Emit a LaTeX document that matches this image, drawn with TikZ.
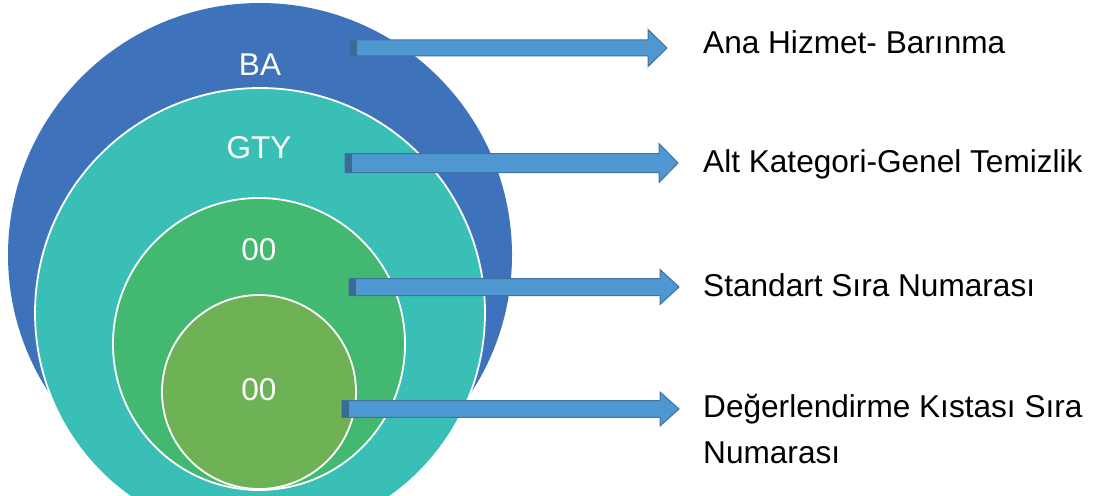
\documentclass[tikz,border=0pt]{standalone}
\usepackage{fontspec}
\setmainfont{Liberation Sans}
\usetikzlibrary{calc}
\definecolor{cblue}{RGB}{62,114,186}
\definecolor{cteal}{RGB}{58,191,182}
\definecolor{cgreen}{RGB}{66,184,112}
\definecolor{clgreen}{RGB}{111,178,86}
\definecolor{arrowfill}{RGB}{79,151,208}
\definecolor{arrowline}{RGB}{64,114,160}
\definecolor{arrowdark}{RGB}{58,106,150}
\tikzset{
  ring/.style={draw=white, line width=1.8pt},
  ringlabel/.style={text=white, font=\fontsize{31.5}{36}\selectfont, anchor=base, inner sep=0pt},
  desc/.style={text=black, font=\fontsize{31.6}{45.7}\selectfont, anchor=base west, inner sep=0pt, align=left},
}
\newcommand\blkarrow[4]{%
  \filldraw[fill=arrowfill, draw=arrowline, line width=1pt]
    ($(#1)+(0,-#3)$) -- ($(#2)+(-19,-#3)$) -- ($(#2)+(-19,-#4)$) -- (#2)
    -- ($(#2)+(-19,#4)$) -- ($(#2)+(-19,#3)$) -- ($(#1)+(0,#3)$) -- cycle;
  \fill[arrowdark] ($(#1)+(0,-#3)$) rectangle ($(#1)+(7,#3)$);
}
\begin{document}
\begin{tikzpicture}[x=1pt,y=-1pt]
\useasboundingbox (0,0) rectangle (1099,495);
\begin{scope}
\clip (0,0) rectangle (1099,495);
\fill[cblue] (260,255) circle (252);
\filldraw[fill=cteal, ring] (260,313) circle (225);
\filldraw[fill=cgreen, ring] (259,344) circle (146);
\filldraw[fill=clgreen, ring] (259,392) circle (97);
\end{scope}
\node[ringlabel] (ba) at (260,75) {BA};
\node[ringlabel] (gty) at (259,158) {GTY};
\node[ringlabel] (n1) at (259,260) {00};
\node[ringlabel] (n2) at (259,400) {00};

\node[desc] (t1) at (703,53) {Ana Hizmet- Barınma};
\node[desc] (t2) at (703,172.7) {Alt Kategori-Genel Temizlik};
\node[desc] (t3) at (703,296.7) {Standart Sıra Numarası};
\node[desc] (t4) at (703,463.3) {Değerlendirme Kıstası Sıra\\Numarası};

\coordinate (s1) at (350,48);  \coordinate (e1) at (667,48);
\coordinate (s2) at (345,163); \coordinate (e2) at (678,163);
\coordinate (s3) at (349,287); \coordinate (e3) at (679,287);
\coordinate (s4) at (342,409); \coordinate (e4) at (679,409);
\blkarrow{s1}{e1}{8}{18.5}
\blkarrow{s2}{e2}{9.5}{19.5}
\blkarrow{s3}{e3}{8.5}{17.5}
\blkarrow{s4}{e4}{8.3}{17}
\end{tikzpicture}
\end{document}
